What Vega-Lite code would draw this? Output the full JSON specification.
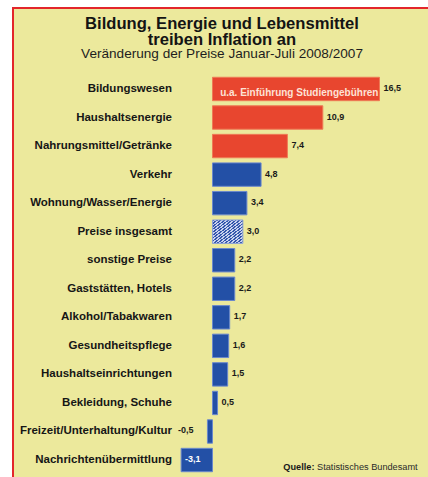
{
  "$schema": "https://vega.github.io/schema/vega-lite/v6.json",
  "width": 418,
  "height": 472,
  "autosize": {"type": "none"},
  "padding": {"left": 13, "top": 8, "right": 0, "bottom": 0},
  "background": "white",
  "config": {
    "view": {"fill": "#ece99c", "stroke": "#e3262b", "strokeWidth": 2},
    "font": "Liberation Sans"
  },
  "title": {
    "text": ["Bildung, Energie und Lebensmittel", "treiben Inflation an"],
    "subtitle": "Veränderung der Preise Januar-Juli 2008/2007",
    "fontSize": 16.6,
    "fontWeight": "bold",
    "font": "Liberation Sans",
    "color": "#141414",
    "lineHeight": 16,
    "subtitleFontSize": 13.6,
    "subtitleColor": "#1e1e1e",
    "subtitleFont": "Liberation Sans",
    "subtitlePadding": -1,
    "anchor": "middle",
    "frame": "group",
    "offset": -53
  },
  "data": {
    "values": [
      {"kategorie": "Bildungswesen", "wert": 16.5, "anzeige": "16,5", "gruppe": "hoch"},
      {"kategorie": "Haushaltsenergie", "wert": 10.9, "anzeige": "10,9", "gruppe": "hoch"},
      {"kategorie": "Nahrungsmittel/Getränke", "wert": 7.4, "anzeige": "7,4", "gruppe": "hoch"},
      {"kategorie": "Verkehr", "wert": 4.8, "anzeige": "4,8", "gruppe": "normal"},
      {"kategorie": "Wohnung/Wasser/Energie", "wert": 3.4, "anzeige": "3,4", "gruppe": "normal"},
      {"kategorie": "Preise insgesamt", "wert": 3.0, "anzeige": "3,0", "gruppe": "gesamt"},
      {"kategorie": "sonstige Preise", "wert": 2.2, "anzeige": "2,2", "gruppe": "normal"},
      {"kategorie": "Gaststätten, Hotels", "wert": 2.2, "anzeige": "2,2", "gruppe": "normal"},
      {"kategorie": "Alkohol/Tabakwaren", "wert": 1.7, "anzeige": "1,7", "gruppe": "normal"},
      {"kategorie": "Gesundheitspflege", "wert": 1.6, "anzeige": "1,6", "gruppe": "normal"},
      {"kategorie": "Haushaltseinrichtungen", "wert": 1.5, "anzeige": "1,5", "gruppe": "normal"},
      {"kategorie": "Bekleidung, Schuhe", "wert": 0.5, "anzeige": "0,5", "gruppe": "normal"},
      {"kategorie": "Freizeit/Unterhaltung/Kultur", "wert": -0.5, "anzeige": "-0,5", "gruppe": "normal"},
      {"kategorie": "Nachrichtenübermittlung", "wert": -3.1, "anzeige": "-3,1", "gruppe": "normal"}
    ]
  },
  "encoding": {
    "y": {
      "field": "kategorie",
      "type": "nominal",
      "sort": null,
      "axis": null,
      "scale": {
        "domain": ["Bildungswesen", "Haushaltsenergie", "Nahrungsmittel/Getränke", "Verkehr", "Wohnung/Wasser/Energie", "Preise insgesamt", "sonstige Preise", "Gaststätten, Hotels", "Alkohol/Tabakwaren", "Gesundheitspflege", "Haushaltseinrichtungen", "Bekleidung, Schuhe", "Freizeit/Unterhaltung/Kultur", "Nachrichtenübermittlung"],
        "range": [66.7, 466.3],
        "paddingInner": 0.18,
        "paddingOuter": 0.09
      }
    }
  },
  "layer": [
    {
      "transform": [{"filter": "datum.gruppe != 'gesamt'"}],
      "mark": {"type": "bar", "strokeWidth": 1},
      "encoding": {
        "x": {"field": "wert", "type": "quantitative", "scale": {"domain": [-19.71, 21.59], "nice": false}, "axis": null},
        "color": {"field": "gruppe", "type": "nominal", "scale": {"domain": ["hoch", "normal"], "range": ["#e8462f", "#2350a6"]}, "legend": null},
        "stroke": {"field": "gruppe", "type": "nominal", "scale": {"domain": ["hoch", "normal"], "range": ["#ee7a55", "#6a88cc"]}, "legend": null}
      }
    },
    {
      "transform": [{"filter": "datum.gruppe == 'gesamt'"}],
      "mark": {
        "type": "bar",
        "stroke": "#8aa0d6",
        "strokeWidth": 1,
        "fill": {
          "gradient": "linear", "x1": 0, "y1": 0, "x2": 1, "y2": 1,
          "stops": [
            {"offset": 0, "color": "#3556ac"}, {"offset": 0.0313, "color": "#3556ac"}, {"offset": 0.0313, "color": "#c9d2ee"}, {"offset": 0.0625, "color": "#c9d2ee"},
            {"offset": 0.0625, "color": "#3556ac"}, {"offset": 0.0938, "color": "#3556ac"}, {"offset": 0.0938, "color": "#c9d2ee"}, {"offset": 0.125, "color": "#c9d2ee"},
            {"offset": 0.125, "color": "#3556ac"}, {"offset": 0.1563, "color": "#3556ac"}, {"offset": 0.1563, "color": "#c9d2ee"}, {"offset": 0.1875, "color": "#c9d2ee"},
            {"offset": 0.1875, "color": "#3556ac"}, {"offset": 0.2188, "color": "#3556ac"}, {"offset": 0.2188, "color": "#c9d2ee"}, {"offset": 0.25, "color": "#c9d2ee"},
            {"offset": 0.25, "color": "#3556ac"}, {"offset": 0.2813, "color": "#3556ac"}, {"offset": 0.2813, "color": "#c9d2ee"}, {"offset": 0.3125, "color": "#c9d2ee"},
            {"offset": 0.3125, "color": "#3556ac"}, {"offset": 0.3438, "color": "#3556ac"}, {"offset": 0.3438, "color": "#c9d2ee"}, {"offset": 0.375, "color": "#c9d2ee"},
            {"offset": 0.375, "color": "#3556ac"}, {"offset": 0.4063, "color": "#3556ac"}, {"offset": 0.4063, "color": "#c9d2ee"}, {"offset": 0.4375, "color": "#c9d2ee"},
            {"offset": 0.4375, "color": "#3556ac"}, {"offset": 0.4688, "color": "#3556ac"}, {"offset": 0.4688, "color": "#c9d2ee"}, {"offset": 0.5, "color": "#c9d2ee"},
            {"offset": 0.5, "color": "#3556ac"}, {"offset": 0.5313, "color": "#3556ac"}, {"offset": 0.5313, "color": "#c9d2ee"}, {"offset": 0.5625, "color": "#c9d2ee"},
            {"offset": 0.5625, "color": "#3556ac"}, {"offset": 0.5938, "color": "#3556ac"}, {"offset": 0.5938, "color": "#c9d2ee"}, {"offset": 0.625, "color": "#c9d2ee"},
            {"offset": 0.625, "color": "#3556ac"}, {"offset": 0.6563, "color": "#3556ac"}, {"offset": 0.6563, "color": "#c9d2ee"}, {"offset": 0.6875, "color": "#c9d2ee"},
            {"offset": 0.6875, "color": "#3556ac"}, {"offset": 0.7188, "color": "#3556ac"}, {"offset": 0.7188, "color": "#c9d2ee"}, {"offset": 0.75, "color": "#c9d2ee"},
            {"offset": 0.75, "color": "#3556ac"}, {"offset": 0.7813, "color": "#3556ac"}, {"offset": 0.7813, "color": "#c9d2ee"}, {"offset": 0.8125, "color": "#c9d2ee"},
            {"offset": 0.8125, "color": "#3556ac"}, {"offset": 0.8438, "color": "#3556ac"}, {"offset": 0.8438, "color": "#c9d2ee"}, {"offset": 0.875, "color": "#c9d2ee"},
            {"offset": 0.875, "color": "#3556ac"}, {"offset": 0.9063, "color": "#3556ac"}, {"offset": 0.9063, "color": "#c9d2ee"}, {"offset": 0.9375, "color": "#c9d2ee"},
            {"offset": 0.9375, "color": "#3556ac"}, {"offset": 0.9688, "color": "#3556ac"}, {"offset": 0.9688, "color": "#c9d2ee"}, {"offset": 1, "color": "#c9d2ee"}
          ]
        }
      },
      "encoding": {
        "x": {"field": "wert", "type": "quantitative", "scale": {"domain": [-19.71, 21.59], "nice": false}, "axis": null}
      }
    },
    {
      "mark": {"type": "text", "align": "right", "baseline": "middle", "fontSize": 11.5, "fontWeight": "bold", "color": "#161616"},
      "encoding": {
        "x": {"datum": -4},
        "text": {"field": "kategorie"}
      }
    },
    {
      "transform": [{"filter": "datum.wert > 0"}],
      "mark": {"type": "text", "align": "left", "baseline": "middle", "dx": 4, "dy": -1, "fontSize": 9, "fontWeight": "bold", "color": "#1a1a1a"},
      "encoding": {
        "x": {"field": "wert", "type": "quantitative"},
        "text": {"field": "anzeige"}
      }
    },
    {
      "transform": [{"filter": "datum.kategorie == 'Freizeit/Unterhaltung/Kultur'"}],
      "mark": {"type": "text", "align": "right", "baseline": "middle", "dx": -14, "dy": -1, "fontSize": 9, "fontWeight": "bold", "color": "#1a1a1a"},
      "encoding": {
        "x": {"field": "wert", "type": "quantitative"},
        "text": {"field": "anzeige"}
      }
    },
    {
      "transform": [{"filter": "datum.kategorie == 'Nachrichtenübermittlung'"}],
      "mark": {"type": "text", "align": "left", "baseline": "middle", "dx": 4, "dy": -1, "fontSize": 9, "fontWeight": "bold", "color": "#ffffff"},
      "encoding": {
        "x": {"field": "wert", "type": "quantitative"},
        "text": {"field": "anzeige"}
      }
    },
    {
      "transform": [{"filter": "datum.kategorie == 'Bildungswesen'"}],
      "mark": {"type": "text", "align": "right", "baseline": "middle", "dx": -1, "dy": 4, "fontSize": 10, "fontWeight": "bold", "color": "#fde2d6", "text": "u.a. Einführung Studiengebühren"},
      "encoding": {
        "x": {"field": "wert", "type": "quantitative"}
      }
    },
    {
      "transform": [{"filter": "datum.kategorie == 'Nachrichtenübermittlung'"}],
      "mark": {"type": "text", "align": "left", "baseline": "middle", "dy": 7, "fontSize": 9.2, "fontWeight": "bold", "color": "#1a1a1a", "text": "Quelle:"},
      "encoding": {
        "x": {"datum": 7}
      }
    },
    {
      "transform": [{"filter": "datum.kategorie == 'Nachrichtenübermittlung'"}],
      "mark": {"type": "text", "align": "left", "baseline": "middle", "dy": 7, "fontSize": 9.2, "color": "#2a2a2a", "text": "Statistisches Bundesamt"},
      "encoding": {
        "x": {"datum": 10.33}
      }
    }
  ]
}
